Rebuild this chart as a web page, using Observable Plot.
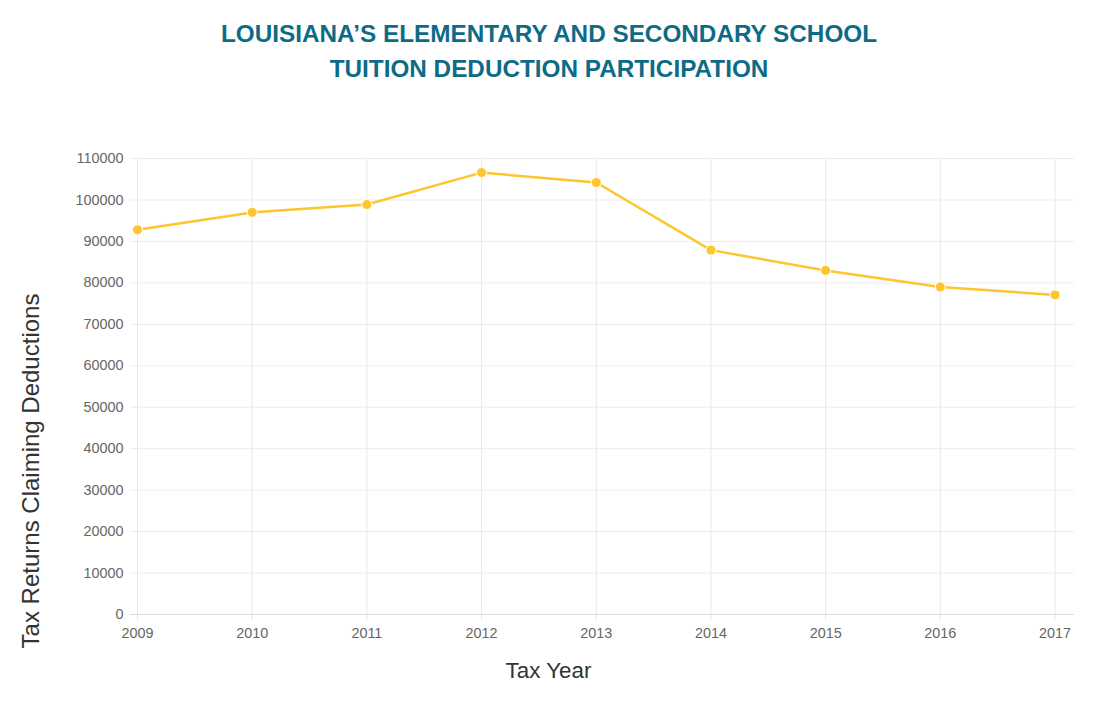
<!DOCTYPE html>
<html><head><meta charset="utf-8">
<script src="https://cdn.jsdelivr.net/npm/d3@7"></script>
<script src="https://cdn.jsdelivr.net/npm/@observablehq/plot@0.6"></script>
<style>
body{margin:0;background:#fff;}
#wrap{position:relative;width:1112px;height:705px;overflow:hidden;background:#fff;}
#title{position:absolute;left:0;top:17px;width:1098px;text-align:center;font-family:"Liberation Sans",Arial,sans-serif;font-weight:bold;font-size:24.3px;line-height:34.5px;color:#0e6b87;}
#chart{position:absolute;left:0;top:100px;}
.axt{position:absolute;font-family:"Liberation Sans",Arial,sans-serif;color:#333;white-space:nowrap;line-height:1;transform:translate(-50%,-50%);}
</style></head>
<body><div id="wrap">
<div id="title">LOUISIANA’S ELEMENTARY AND SECONDARY SCHOOL<br>TUITION DEDUCTION PARTICIPATION</div>
<div id="chart"></div>
<div class="axt" id="xt" style="left:548.5px;top:671px;font-size:22.4px;">Tax Year</div>
<div class="axt" id="yt" style="left:31px;top:471px;font-size:24px;transform:translate(-50%,-50%) rotate(-90deg);">Tax Returns Claiming Deductions</div>
</div>
<script>
const years = [2009, 2010, 2011, 2012, 2013, 2014, 2015, 2016, 2017];
const returnsClaiming = [92800, 97000, 98900, 106600, 104200, 87900, 83000, 79000, 77100];
const yTicks = [0, 10000, 20000, 30000, 40000, 50000, 60000, 70000, 80000, 90000, 100000, 110000];

const data = years.map((y, i) => ({year: y, value: returnsClaiming[i]}));
const font = '"Liberation Sans",Arial,sans-serif';
const chart = Plot.plot({
  width: 1112, height: 605,
  marginTop: 58, marginBottom: 91, marginLeft: 130, marginRight: 38,
  style: {fontFamily: font, fontSize: "14.4px", color: "#666", background: "transparent"},
  x: {domain: [2009, 2017], insetLeft: 7, insetRight: 19.5},
  y: {domain: [0, 110000]},
  marks: [
    Plot.gridX(years, {stroke: "#e8e8e8", strokeOpacity: 1}),
    Plot.gridY(yTicks, {stroke: "#ececec", strokeOpacity: 1}),
    Plot.ruleY([0], {stroke: "#dcdcdc"}),
    Plot.axisX(years, {tickFormat: d => String(d), tickSize: 6, tickPadding: 7, stroke: "#e3e3e3", fill: "#666", label: null}),
    Plot.axisY(yTicks, {tickFormat: d => String(d), tickSize: 0, tickPadding: 7, fill: "#666", label: null}),
    Plot.line(data, {x: "year", y: "value", stroke: "#ffc52e", strokeWidth: 2.5}),
    Plot.dot(data, {x: "year", y: "value", r: 5, fill: "#ffc52e", stroke: "#fff", strokeWidth: 1})
  ]
});
document.getElementById("chart").appendChild(chart);
</script>
</body></html>
